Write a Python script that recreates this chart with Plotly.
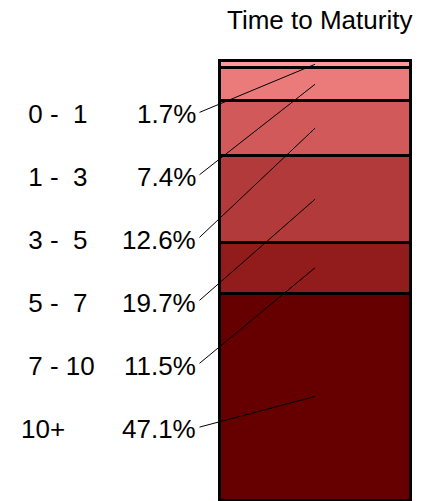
import plotly.graph_objects as go

# Maturity buckets (top of the bar to bottom) and their share of the total
buckets = ["\u00a00 -\u00a0\u00a01", "\u00a01 -\u00a0\u00a03", "\u00a03 -\u00a0\u00a05",
           "\u00a05 -\u00a0\u00a07", "\u00a07 - 10", "10+"]
shares = [1.7, 7.4, 12.6, 19.7, 11.5, 47.1]
share_labels = ["1.7%", "7.4%", "12.6%", "19.7%", "11.5%", "47.1%"]
colors = ["#FF9999", "#EB7B7B", "#D15959", "#B33A3A", "#921C1C", "#660000"]

W, H = 432, 501
FONT = "Liberation Sans, Arial, Helvetica, sans-serif"
FS = 26

# Bar geometry in pixels; the axes get a few pixels of padding so the
# outline stroke is not clipped by the plot area
BAR_L, BAR_R = 219.5, 410.7
BAR_T, BAR_B = 60.5, 500.0
PAD = 4.0
x_per_px = 1.0 / (BAR_R - BAR_L)
y_per_px = 100.0 / (BAR_B - BAR_T)


def x_data(px):
    return -0.5 + (px - BAR_L) * x_per_px


def y_data(py):
    return (BAR_B - py) * y_per_px


fig = go.Figure()

# Stack from the bottom bucket upwards
for name, val, col in zip(reversed(buckets), reversed(shares), reversed(colors)):
    fig.add_trace(go.Bar(
        x=[0], y=[val], width=1, name=name,
        marker=dict(color=col, line=dict(color="black", width=2.5)),
        hoverinfo="skip", showlegend=False,
    ))

# Centre of each segment, measured from the top of the stack
centres = []
top = sum(shares)
for val in shares:
    centres.append(top - val / 2)
    top -= val

ROW0, ROW_STEP = 114.5, 62.9
annotations = []
for i, (name, lab, c) in enumerate(zip(buckets, share_labels, centres)):
    row_px = ROW0 + ROW_STEP * i
    annotations.append(dict(
        x=19 / W, y=1 - row_px / H, xref="paper", yref="paper",
        text=name, showarrow=False, xanchor="left", yanchor="middle",
        font=dict(family=FONT, size=FS, color="black"),
    ))
    annotations.append(dict(
        x=197.5 / W, y=1 - row_px / H, xref="paper", yref="paper",
        text=lab, showarrow=False, xanchor="right", yanchor="middle",
        font=dict(family=FONT, size=FS, color="black"),
    ))
    # leader line from the percentage to the middle of its segment
    annotations.append(dict(
        x=0, y=c, xref="x", yref="y",
        ax=x_data(198), ay=y_data(row_px - 1.5), axref="x", ayref="y",
        text="", showarrow=True, arrowhead=0, arrowwidth=1,
        arrowcolor="black", standoff=0, startstandoff=0,
    ))

annotations.append(dict(
    x=319 / W, y=1 - 19.5 / H, xref="paper", yref="paper",
    text="Time to Maturity", showarrow=False, xanchor="center", yanchor="middle",
    font=dict(family=FONT, size=FS, color="black"),
))

fig.update_layout(
    width=W, height=H,
    margin=dict(l=0, r=0, t=0, b=0),
    paper_bgcolor="white", plot_bgcolor="white",
    barmode="stack", bargap=0,
    xaxis=dict(domain=[(BAR_L - PAD) / W, (BAR_R + PAD) / W],
               range=[-0.5 - PAD * x_per_px, 0.5 + PAD * x_per_px],
               visible=False, fixedrange=True),
    yaxis=dict(domain=[max(0.0, 1 - (BAR_B + PAD) / H), 1 - (BAR_T - PAD) / H],
               range=[-min(PAD, H - BAR_B) * y_per_px, 100 + PAD * y_per_px],
               visible=False, fixedrange=True),
    annotations=annotations,
)

fig.write_html("out.html")
